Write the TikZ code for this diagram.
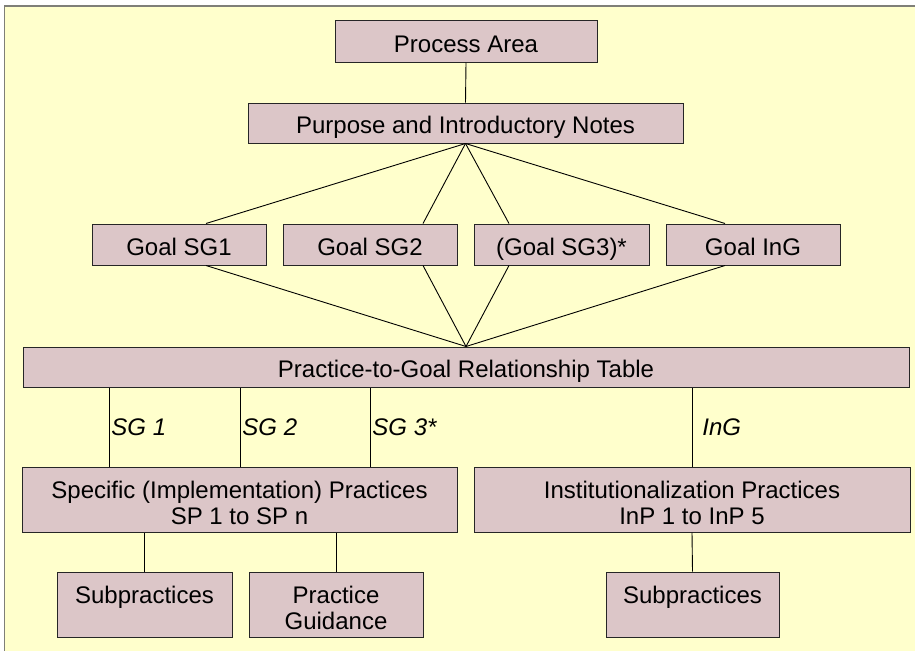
\documentclass[tikz,border=0pt]{standalone}
\usepackage{fontspec}
\setmainfont{Liberation Sans}
\usepackage{tikz}
\usetikzlibrary{positioning}

\definecolor{paper}{HTML}{FFFFCC}
\definecolor{boxfill}{HTML}{DCC6C8}
\definecolor{framegray}{HTML}{7F7F78}

\tikzset{
  pabox/.style={draw=black!85, fill=boxfill, line width=1pt, inner sep=0pt,
    align=center, font=\fontsize{24}{26}\selectfont,
    execute at begin node={\rule{0pt}{26pt}},
    execute at end node={\rule[-4pt]{0pt}{4pt}}},
  tallbox/.style={pabox, minimum height=65pt,
    execute at begin node={\rule{0pt}{54pt}}},
  link/.style={draw=black, line width=0.9pt},
  goallabel/.style={font=\fontsize{24}{26}\selectfont\itshape, inner sep=2pt}
}

\begin{document}
\begin{tikzpicture}[x=1pt,y=-1pt]
\useasboundingbox (0,0) rectangle (915,651);

% Background and frame
\fill[white] (0,0) rectangle (915,651);
\fill[paper] (5,7) rectangle (915,651);
\draw[framegray, line width=2pt] (4,6) -- (915,6);
\draw[framegray, line width=1.5pt] (4.5,6) -- (4.5,651);

% Process area and notes
\node[pabox, minimum width=262pt, minimum height=42pt] (area) at (466,41) {Process Area};
\node[pabox, minimum width=435pt, minimum height=40pt] (notes) at (465.5,123) {Purpose and Introductory Notes};

% Goals
\node[pabox, minimum width=174pt, minimum height=41pt] (g1) at (179,244.5) {Goal SG1};
\node[pabox, minimum width=174pt, minimum height=41pt] (g2) at (370,244.5) {Goal SG2};
\node[pabox, minimum width=175pt, minimum height=41pt] (g3) at (561.5,244.5) {(Goal SG3)*};
\node[pabox, minimum width=174pt, minimum height=41pt] (gi) at (753,244.5) {Goal InG};

% Relationship table
\node[pabox, minimum width=886pt, minimum height=40pt] (table) at (466,367) {Practice-to-Goal Relationship Table};

% Practices
\node[tallbox, minimum width=435pt] (spec) at (239.5,499.5) {Specific (Implementation) Practices\\SP 1 to SP n};
\node[tallbox, minimum width=436pt] (inst) at (692,499.5) {Institutionalization Practices\\InP 1 to InP 5};

% Subpractices and guidance
\node[tallbox, minimum width=175pt] (sub1) at (144.5,604.5) {Subpractices\\\mbox{}};
\node[tallbox, minimum width=174pt] (guide) at (336,604.5) {Practice\\Guidance};
\node[tallbox, minimum width=173pt] (sub2) at (692.5,604.5) {Subpractices\\\mbox{}};

% Upper links
\draw[link] (area.south) -- (notes.north);
\draw[link] (notes.south) -- ([xshift=27pt]g1.north);
\draw[link] (notes.south) -- ([xshift=53pt]g2.north);
\draw[link] (notes.south) -- ([xshift=-52.5pt]g3.north);
\draw[link] (notes.south) -- ([xshift=-28pt]gi.north);
\draw[link] (table.north) -- ([xshift=27pt]g1.south);
\draw[link] (table.north) -- ([xshift=53pt]g2.south);
\draw[link] (table.north) -- ([xshift=-52.5pt]g3.south);
\draw[link] (table.north) -- ([xshift=-28pt]gi.south);

% Goal links from the table
\coordinate (s1) at ([xshift=-130.5pt]spec.north);
\coordinate (s2) at ([xshift=0.5pt]spec.north);
\coordinate (s3) at ([xshift=130.5pt]spec.north);
\draw[link] (s1) -- (s1 |- table.south) node[midway, right, goallabel] {SG 1};
\draw[link] (s2) -- (s2 |- table.south) node[midway, right, goallabel] {SG 2};
\draw[link] (s3) -- (s3 |- table.south) node[midway, right, goallabel] {SG 3*};
\draw[link] (inst.north) -- (inst.north |- table.south) node[midway, right, goallabel, xshift=8pt] {InG};

% Lower links
\draw[link] (sub1.north) -- (sub1.north |- spec.south);
\draw[link] (guide.north) -- (guide.north |- spec.south);
\draw[link] (sub2.north) -- (inst.south);
\end{tikzpicture}
\end{document}
